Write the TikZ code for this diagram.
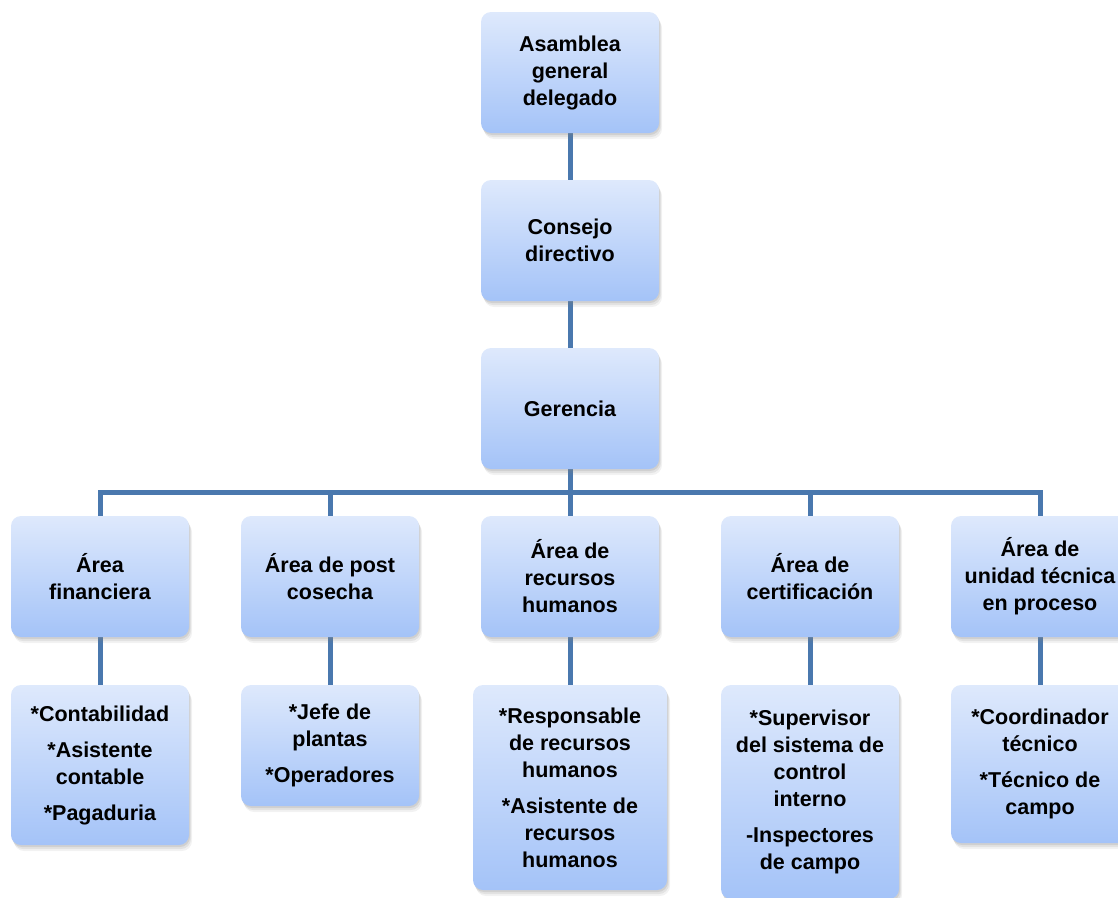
\documentclass[tikz,border=0pt]{standalone}
\usepackage{fontspec}
\setmainfont{Liberation Sans}
\usetikzlibrary{shadows,backgrounds}
\definecolor{boxtop}{HTML}{DEE9FC}
\definecolor{boxbot}{HTML}{A4C3F8}
\definecolor{linkblue}{HTML}{4A78AE}
\begin{document}
\begin{tikzpicture}[x=1pt,y=-1pt,
  softshadow/.style={
    drop shadow={opacity=0.10, shadow xshift=3pt, shadow yshift=-6pt},
    drop shadow={opacity=0.14, shadow xshift=2pt, shadow yshift=-4pt},
    drop shadow={opacity=0.18, shadow xshift=1pt, shadow yshift=-2pt}},
  orgbox/.style={rounded corners=10pt, minimum width=178pt, minimum height=121pt,
    inner sep=0pt, align=center, top color=boxtop, bottom color=boxbot,
    softshadow,
    font=\fontsize{21.5}{27}\selectfont\bfseries},
  link/.style={draw=linkblue, line width=5pt}]
\useasboundingbox (0,0) rectangle (1118,897);
% top of the chart
\node[orgbox] (asam) at (570,72.5) {Asamblea\\general\\delegado};
\node[orgbox] (cons) at (570,240.5) {Consejo\\directivo};
\node[orgbox] (ger)  at (570,408.5) {Gerencia};
% areas
\node[orgbox] (fin)  at (100,576.5)  {Área\\financiera};
\node[orgbox] (post) at (330,576.5)  {Área de post\\cosecha};
\node[orgbox] (rrhh) at (570,576.5)  {Área de\\recursos\\humanos};
\node[orgbox] (cert) at (810,576.5)  {Área de\\certificación};
\node[orgbox] (unid) at (1040,576.5) {Área de\\unidad técnica\\en proceso};
% staff of each area
\node[orgbox, minimum height=160pt] (cont) at (100,765)
  {*Contabilidad\\[9pt]*Asistente\\contable\\[9pt]*Pagaduria};
\node[orgbox] (jefe) at (330,745.5)
  {*Jefe de\\plantas\\[9pt]*Operadores};
\node[orgbox, minimum width=194pt, minimum height=205pt] (resp) at (570,787.5)
  {*Responsable\\de recursos\\humanos\\[9pt]*Asistente de\\recursos\\humanos};
\node[orgbox, minimum height=214pt] (sup) at (810,792)
  {*Supervisor\\del sistema de\\control\\interno\\[9pt]-Inspectores\\de campo};
\node[orgbox, minimum height=158pt] (coor) at (1040,764)
  {*Coordinador\\técnico\\[9pt]*Técnico de\\campo};
\coordinate (bus) at (570,492);
\begin{scope}[on background layer]
  \draw[link] (asam.south) -- (cons.north);
  \draw[link] (cons.south) -- (ger.north);
  \draw[link] (ger.south) -- (bus);
  \draw[link] (fin.north) -- (fin.north |- bus) -- (unid.north |- bus) -- (unid.north);
  \draw[link] (post.north |- bus) -- (post.north);
  \draw[link] (rrhh.north |- bus) -- (rrhh.north);
  \draw[link] (cert.north |- bus) -- (cert.north);
  \draw[link] (fin.south) -- (cont.north);
  \draw[link] (post.south) -- (jefe.north);
  \draw[link] (rrhh.south) -- (resp.north);
  \draw[link] (cert.south) -- (sup.north);
  \draw[link] (unid.south) -- (coor.north);
\end{scope}
\end{tikzpicture}
\end{document}
